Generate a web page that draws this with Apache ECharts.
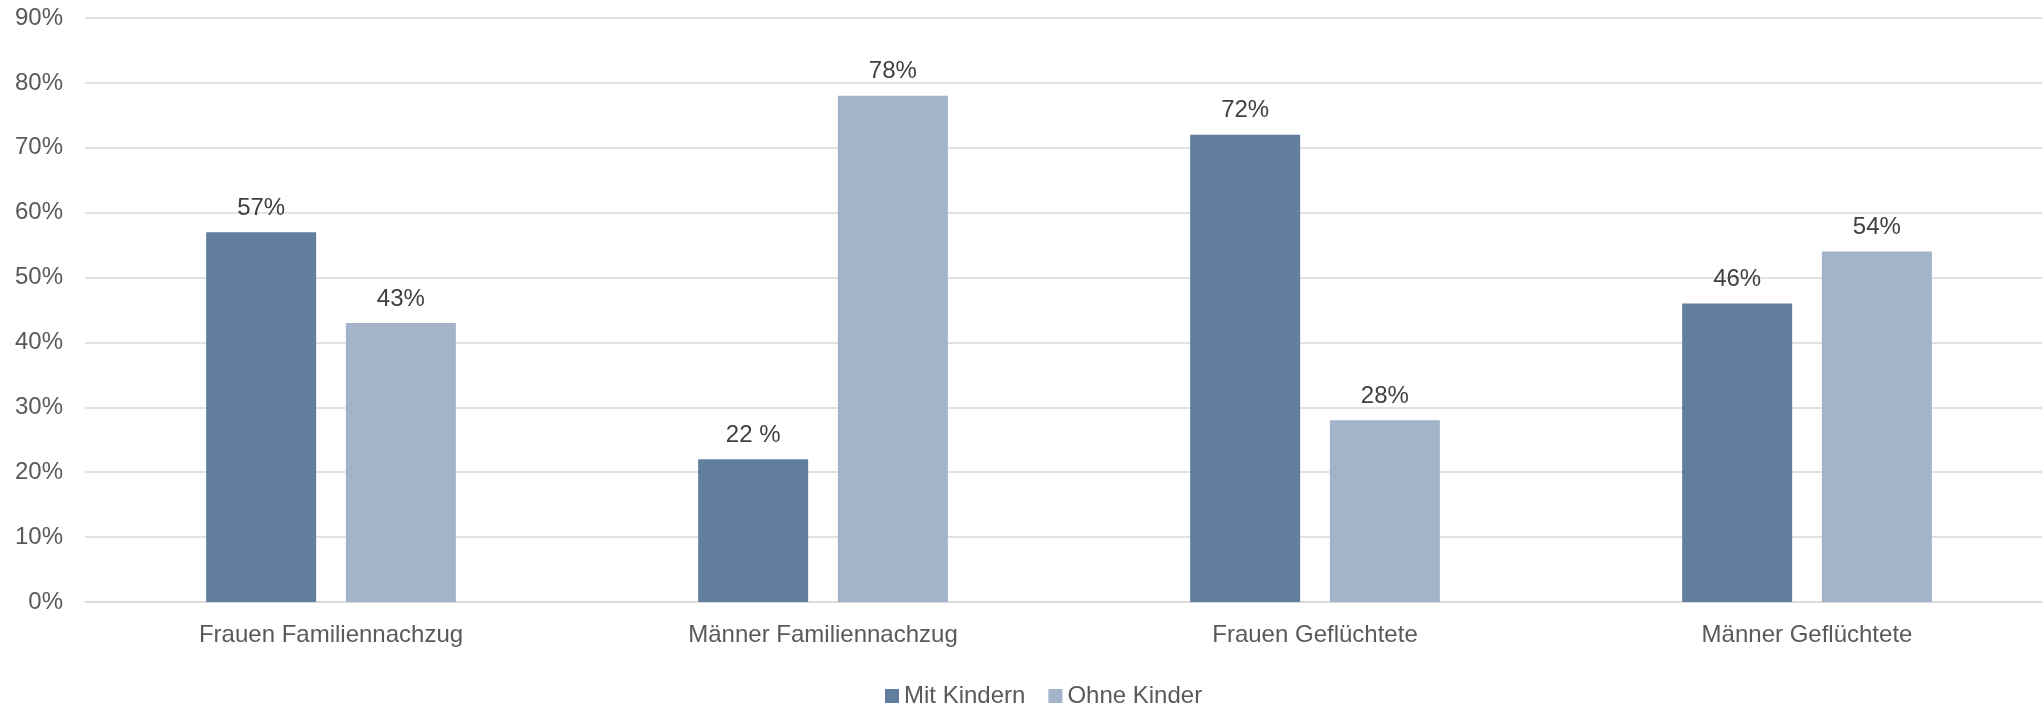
<!DOCTYPE html>
<html lang="de">
<head>
<meta charset="utf-8">
<title>Mit und ohne Kinder</title>
<script src="https://cdn.jsdelivr.net/npm/echarts@6/dist/echarts.min.js"></script>
<style>
  html, body { margin: 0; padding: 0; background: #ffffff; overflow: hidden; }
  /* the plot area runs a little past the right edge of the window */
  #chart { width: 2053px; height: 708px; }
</style>
</head>
<body>
<div id="chart"></div>
<script>
// Gruppen auf der x-Achse
const categories = ['Frauen Familiennachzug', 'Männer Familiennachzug', 'Frauen Geflüchtete', 'Männer Geflüchtete'];
// Anteile in Prozent
const mitKindern = [57, 22, 72, 46];
const ohneKinder = [43, 78, 28, 54];
// Schreibweise der Prozentangabe je Balken
const mitKindernSuffix = ['%', ' %', '%', '%'];
const ohneKinderSuffix = ['%', '%', '%', '%'];
// Skala der y-Achse
const yMin = 0, yMax = 90, yStep = 10;

const FONT = '"Liberation Sans", Arial, sans-serif';
const FONT_SIZE = 24;
const AXIS_GREY = '#595959';
const LABEL_GREY = '#404040';
const GRID_GREY = '#d9d9d9';

const chart = echarts.init(document.getElementById('chart'), null, { renderer: 'canvas' });

function barLabel(suffixes) {
  return {
    show: true,
    position: 'top',
    distance: 12,
    color: LABEL_GREY,
    fontFamily: FONT,
    fontSize: FONT_SIZE,
    formatter: p => p.value + suffixes[p.dataIndex]
  };
}

chart.setOption({
  backgroundColor: '#ffffff',
  animation: false,
  textStyle: { fontFamily: FONT },
  grid: { left: 85, top: 18, right: 0, bottom: 106, containLabel: false },
  legend: {
    data: ['Mit Kindern', 'Ohne Kinder'],
    left: 880,
    top: 679,
    icon: 'rect',
    itemWidth: 14,
    itemHeight: 14,
    itemGap: 23,
    textStyle: { color: AXIS_GREY, fontSize: FONT_SIZE, fontFamily: FONT }
  },
  xAxis: {
    type: 'category',
    data: categories,
    axisTick: { show: false },
    axisLine: { show: true, lineStyle: { color: GRID_GREY, width: 1.5 } },
    axisLabel: { color: AXIS_GREY, fontSize: FONT_SIZE, fontFamily: FONT, margin: 21, interval: 0 }
  },
  yAxis: {
    type: 'value',
    min: yMin,
    max: yMax,
    interval: yStep,
    axisLine: { show: false },
    axisTick: { show: false },
    axisLabel: { color: AXIS_GREY, fontSize: FONT_SIZE, fontFamily: FONT, margin: 22, formatter: '{value}%' },
    splitLine: { show: true, lineStyle: { color: GRID_GREY, width: 1.5 } }
  },
  series: [
    {
      name: 'Mit Kindern',
      type: 'bar',
      data: mitKindern,
      barWidth: 110,
      barGap: '27%',
      itemStyle: { color: '#617e9f' },
      label: barLabel(mitKindernSuffix)
    },
    {
      name: 'Ohne Kinder',
      type: 'bar',
      data: ohneKinder,
      barWidth: 110,
      barGap: '27%',
      itemStyle: { color: '#a2b3ca' },
      label: barLabel(ohneKinderSuffix)
    }
  ]
});
</script>
</body>
</html>
